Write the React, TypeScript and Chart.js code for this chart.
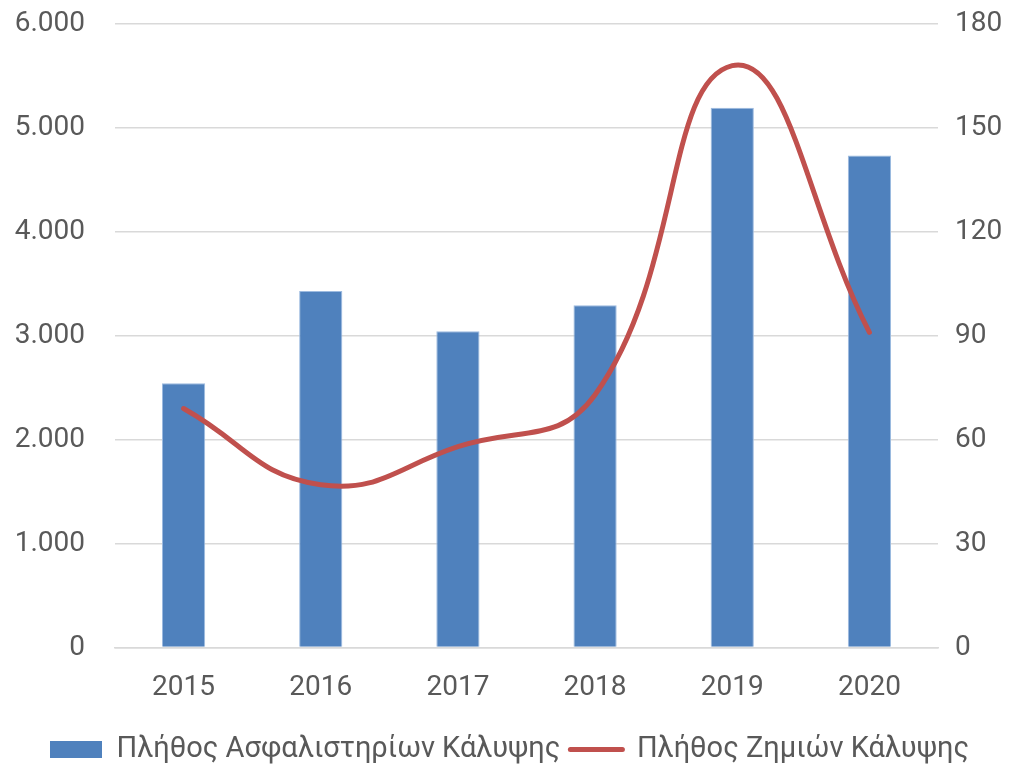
import React, { useEffect, useRef } from "react";
import { Chart, registerables } from "chart.js";

Chart.register(...registerables);

const years = ["2015", "2016", "2017", "2018", "2019", "2020"];
const policies = [2543, 3430, 3044, 3294, 5195, 4735];
const claims = [69, 47, 58, 73, 168, 91];
const leftTicks = [0, 1000, 2000, 3000, 4000, 5000, 6000];
const rightTicks = [0, 30, 60, 90, 120, 150, 180];
const seriesNames = ["Πλήθος Ασφαλιστηρίων Κάλυψης", "Πλήθος Ζημιών Κάλυψης"];

const BLUE = "#4f81bd";
const RED = "#c0504d";
const TEXT = "#595959";
const GRID = "#d9d9d9";
const FONT = "Roboto";

function fmt(v: number): string {
  return String(Math.round(v)).replace(/\B(?=(\d{3})+(?!\d))/g, ".");
}

export default function App() {
  const ref = useRef<HTMLCanvasElement | null>(null);
  useEffect(() => {
    if (!ref.current) return;
    const chart = new Chart(ref.current, {
      type: "bar",
      data: {
        labels: years,
        datasets: [
          {
            type: "bar",
            label: seriesNames[0],
            data: policies,
            backgroundColor: BLUE,
            borderColor: "#9dbbe0",
            borderWidth: 1,
            barPercentage: 0.315,
            categoryPercentage: 1,
            yAxisID: "y",
            order: 2,
          },
          {
            type: "line",
            label: seriesNames[1],
            data: claims,
            borderColor: RED,
            backgroundColor: RED,
            borderWidth: 5,
            borderCapStyle: "round",
            pointRadius: 0,
            tension: 0.45,
            yAxisID: "y1",
            order: 1,
          },
        ],
      },
      options: {
        responsive: false,
        animation: false,
        layout: { padding: { top: 24, left: 0, right: 0, bottom: -10 } },
        plugins: {
          tooltip: { enabled: false },
          legend: {
            position: "bottom",
            labels: {
              color: TEXT,
              font: { family: FONT, size: 29 },
              usePointStyle: true,
              pointStyleWidth: 52,
              boxHeight: 17,
              padding: 10,
              generateLabels: (c: any) => {
                const items = (Chart.defaults.plugins.legend.labels as any).generateLabels(c);
                items.sort((a: any, b: any) => a.datasetIndex - b.datasetIndex);
                return items.map((it: any) => {
                  if (it.datasetIndex === 0) {
                    return { ...it, pointStyle: "rect", fillStyle: BLUE, strokeStyle: BLUE, lineWidth: 0 };
                  }
                  return { ...it, pointStyle: "line", strokeStyle: RED, fillStyle: RED, lineWidth: 5, lineCap: "round" };
                });
              },
            },
          },
        },
        scales: {
          x: {
            grid: { display: false, drawTicks: false },
            border: { color: GRID, width: 1.5 },
            ticks: { color: TEXT, font: { family: FONT, size: 28 }, padding: 24 },
            afterFit: (s: any) => {
              s.height = 77.4;
            },
          },
          y: {
            position: "left",
            min: 0,
            max: 6000,
            afterBuildTicks: (s: any) => {
              s.ticks = leftTicks.map((v) => ({ value: v }));
            },
            afterFit: (s: any) => {
              s.width = 115;
              s.paddingTop = 0;
              s.paddingBottom = 0;
            },
            grid: { color: GRID, lineWidth: 1.5, drawTicks: false },
            border: { display: false },
            ticks: {
              color: TEXT,
              font: { family: FONT, size: 28 },
              padding: 30,
              callback: (v: any) => fmt(Number(v)),
            },
          },
          y1: {
            position: "right",
            min: 0,
            max: 180,
            afterBuildTicks: (s: any) => {
              s.ticks = rightTicks.map((v) => ({ value: v }));
            },
            afterFit: (s: any) => {
              s.width = 81;
              s.paddingTop = 0;
              s.paddingBottom = 0;
            },
            grid: { display: false, drawTicks: false },
            border: { display: false },
            ticks: {
              color: TEXT,
              font: { family: FONT, size: 28 },
              padding: 17,
              callback: (v: any) => String(v),
            },
          },
        },
      },
    } as any);
    return () => chart.destroy();
  }, []);
  return (
    <div style={{ position: "absolute", left: 0, top: 0, width: 1019, height: 764, background: "#fff" }}>
      <canvas ref={ref} width={1019} height={764} />
    </div>
  );
}
